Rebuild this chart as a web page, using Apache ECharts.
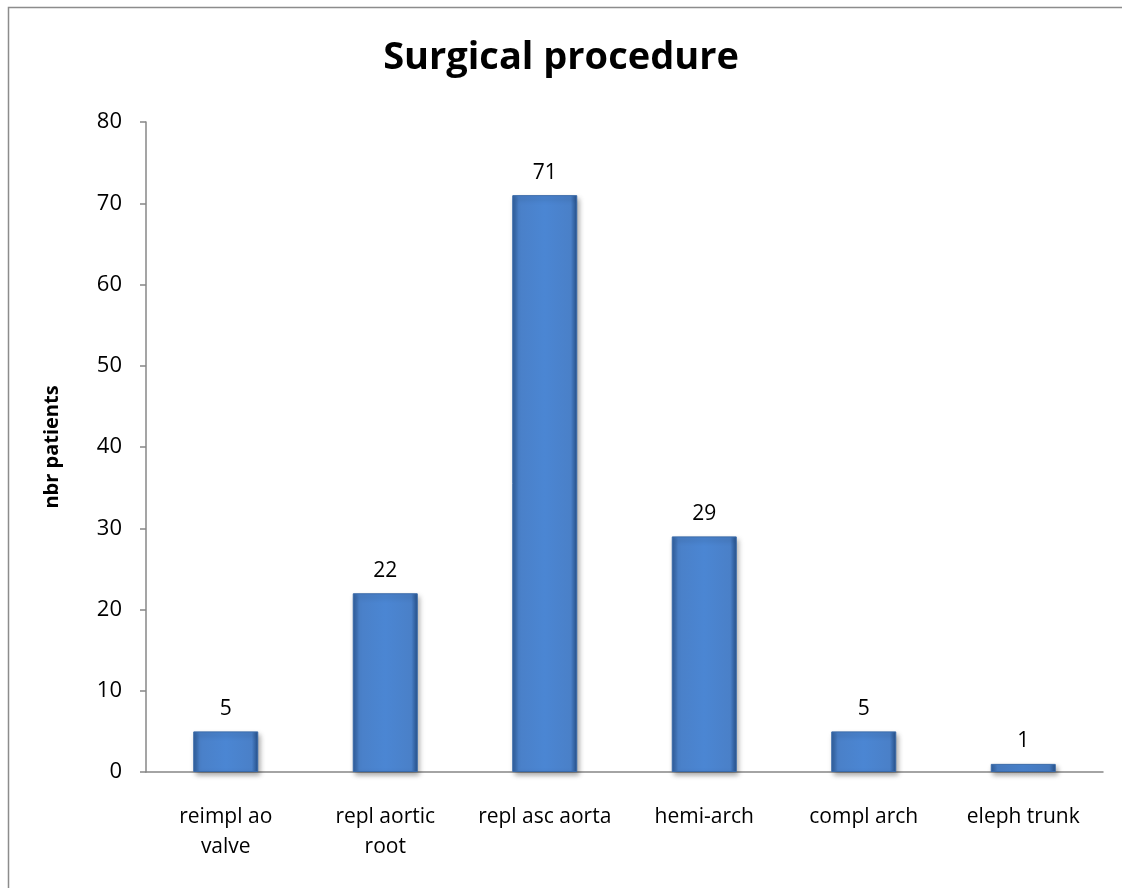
<!DOCTYPE html>
<html>
<head>
<meta charset="utf-8">
<script src="https://cdn.jsdelivr.net/npm/echarts@6/dist/echarts.min.js"></script>
<style>
html,body{margin:0;padding:0;background:#fff;}
#chart{width:1122px;height:888px;}
</style>
</head>
<body>
<div id="chart"></div>
<script>
const categories = ['reimpl ao\nvalve', 'repl aortic\nroot', 'repl asc aorta', 'hemi-arch', 'compl arch', 'eleph trunk'];
const values = [5, 22, 71, 29, 5, 1];
const yTicks = [0, 10, 20, 30, 40, 50, 60, 70, 80];

const FONT = '"Open Sans", "Noto Sans", sans-serif';
const chart = echarts.init(document.getElementById('chart'), null, {renderer: 'canvas'});
chart.setOption({
  animation: false,
  backgroundColor: '#fff',
  graphic: [{
    type: 'rect', shape: {x: 8.5, y: 7.5, width: 1130, height: 900},
    style: {fill: 'none', stroke: '#8c8c8c', lineWidth: 1.5}, silent: true
  }],
  title: {
    text: 'Surgical procedure', left: 'center', top: 34,
    textStyle: {fontFamily: FONT, fontSize: 38, fontWeight: 'bold', color: '#000'}
  },
  grid: {left: 146, right: 19, top: 122, bottom: 116, containLabel: false},
  xAxis: {
    type: 'category', data: categories,
    axisLine: {lineStyle: {color: '#878787', width: 1.5}},
    axisTick: {show: false},
    axisLabel: {fontFamily: FONT, fontSize: 21, color: '#000', margin: 30, lineHeight: 30, interval: 0}
  },
  yAxis: {
    type: 'value', min: yTicks[0], max: yTicks[yTicks.length - 1], interval: 10,
    name: 'nbr patients', nameLocation: 'middle', nameGap: 84, nameRotate: 90,
    nameTextStyle: {fontFamily: FONT, fontSize: 20, fontWeight: 'bold', color: '#000'},
    axisLine: {show: true, lineStyle: {color: '#878787', width: 1.5}},
    axisTick: {show: true, length: 6, lineStyle: {color: '#878787', width: 1.5}},
    splitLine: {show: false},
    axisLabel: {fontFamily: FONT, fontSize: 22, color: '#000', margin: 24}
  },
  series: [{
    type: 'bar', data: values, barWidth: 65,
    itemStyle: {
      color: new echarts.graphic.LinearGradient(0, 0, 1, 0, [
        {offset: 0, color: '#2f5e9c'},
        {offset: 0.1, color: '#4a80c8'},
        {offset: 0.5, color: '#4b86d3'},
        {offset: 0.9, color: '#4a80c8'},
        {offset: 1, color: '#25508a'}
      ]),
      borderColor: '#3a6aa8', borderWidth: 1,
      shadowColor: 'rgba(0,0,0,0.35)', shadowBlur: 5, shadowOffsetX: 2, shadowOffsetY: 3
    },
    label: {show: true, position: 'top', distance: 12, fontFamily: FONT, fontSize: 21, color: '#000'}
  }]
});
</script>
</body>
</html>
